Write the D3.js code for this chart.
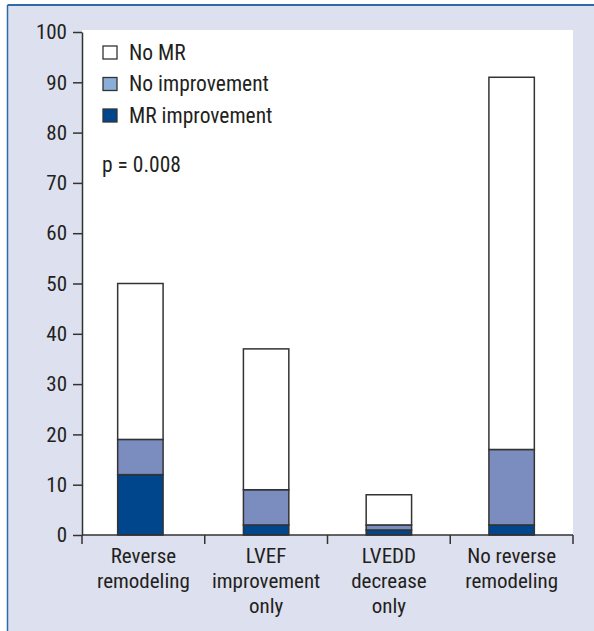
<!DOCTYPE html>
<html>
<head>
<meta charset="utf-8">
<script src="https://cdn.jsdelivr.net/npm/d3@7"></script>
<style>
  html, body { margin: 0; padding: 0; background: #fff; }
  svg text { font-family: "Liberation Sans Narrow", "Roboto Condensed", "Liberation Sans", sans-serif; fill: #231f20; }
</style>
</head>
<body>
<div id="chart"></div>
<script>
// data
const categories = [['Reverse', 'remodeling'], ['LVEF', 'improvement', 'only'], ['LVEDD', 'decrease', 'only'], ['No reverse', 'remodeling']];
const mrImprovement = [12, 2, 1, 2];
const noImprovement = [7, 7, 1, 15];
const noMR = [31, 28, 6, 74];
const seriesNames = ['MR improvement', 'No improvement', 'No MR'];
const legendOrder = ['No MR', 'No improvement', 'MR improvement'];
const yTicks = [0, 10, 20, 30, 40, 50, 60, 70, 80, 90, 100];
const pText = 'p = 0.008';

const W = 594, H = 631;
const margin = { top: 32, right: 21, bottom: 96, left: 82 };
const cW = W - margin.left - margin.right;
const cH = H - margin.top - margin.bottom;

const colors = { 'MR improvement': '#00468c', 'No improvement': '#7b8dbf', 'No MR': '#ffffff' };
const legendColors = { 'MR improvement': '#00468c', 'No improvement': '#8aaed8', 'No MR': '#ffffff' };

const svg = d3.select('#chart').append('svg').attr('width', W).attr('height', H);

// frame
svg.append('rect').attr('x', 8).attr('y', 5).attr('width', W - 8).attr('height', H - 5).attr('fill', '#dde0ee');
svg.append('line').attr('x1', 7.5).attr('x2', W).attr('y1', 5).attr('y2', 5).attr('stroke', '#2e6aa8').attr('stroke-width', 2);
svg.append('line').attr('x1', 7.5).attr('x2', 7.5).attr('y1', 5).attr('y2', H).attr('stroke', '#2e6aa8').attr('stroke-width', 1.5);

const g = svg.append('g').attr('transform', `translate(${margin.left},${margin.top})`);

// plot area background
g.append('rect').attr('x', 0).attr('y', -2).attr('width', cW).attr('height', cH + 2).attr('fill', '#fff');

const x = d3.scaleBand().domain(d3.range(categories.length)).range([0, cW]).paddingInner(0.63).paddingOuter(0.315);
const y = d3.scaleLinear().domain([0, 100]).range([cH, 0]);

const table = categories.map((c, i) => ({
  i,
  'MR improvement': mrImprovement[i],
  'No improvement': noImprovement[i],
  'No MR': noMR[i]
}));
const stacked = d3.stack().keys(seriesNames)(table);

g.selectAll('g.layer').data(stacked).join('g').attr('class', 'layer')
  .attr('fill', d => colors[d.key])
  .selectAll('rect').data(d => d).join('rect')
  .attr('x', d => x(d.data.i) - (d.data.i === 0 ? 3 : 0))
  .attr('width', x.bandwidth())
  .attr('y', d => y(d[1]))
  .attr('height', d => y(d[0]) - y(d[1]))
  .attr('stroke', '#333')
  .attr('stroke-width', 1.5);

// y axis
const yAxis = g.append('g').call(d3.axisLeft(y).tickValues(yTicks).tickSize(9).tickPadding(6).tickSizeOuter(0));
yAxis.select('.domain').attr('stroke', '#333').attr('stroke-width', 1.5);
yAxis.selectAll('.tick line').attr('stroke', '#333').attr('stroke-width', 1.5);
yAxis.selectAll('.tick text').attr('font-size', 21).attr('fill', '#231f20');

// x axis with boundary ticks
const xb = g.append('g').attr('transform', `translate(0,${cH})`);
xb.append('line').attr('x1', 0).attr('x2', cW).attr('stroke', '#333').attr('stroke-width', 1.5);
xb.selectAll('line.bt').data(d3.range(categories.length + 1)).join('line').attr('class', 'bt')
  .attr('x1', d => d * cW / categories.length).attr('x2', d => d * cW / categories.length)
  .attr('y1', 0).attr('y2', 9).attr('stroke', '#333').attr('stroke-width', 1.5);

const labels = xb.selectAll('text.cat').data(categories).join('text').attr('class', 'cat')
  .attr('text-anchor', 'middle')
  .attr('font-size', 21)
  .attr('x', (d, i) => (i + 0.5) * cW / categories.length);
labels.selectAll('tspan').data(d => d).join('tspan')
  .attr('x', function () { return d3.select(this.parentNode).attr('x'); })
  .attr('y', (d, j) => 28 + j * 25)
  .text(d => d);

// legend
const lg = g.append('g').attr('transform', 'translate(21,0)');
legendOrder.forEach((k, i) => {
  const row = lg.append('g').attr('transform', `translate(0,${14 + i * 31.5})`);
  row.append('rect').attr('width', 14).attr('height', 13).attr('fill', legendColors[k]).attr('stroke', '#333').attr('stroke-width', 1.3);
  row.append('text').attr('x', 26).attr('y', 13.5).attr('font-size', 21.5).text(k);
});
g.append('text').attr('x', 20).attr('y', 140).attr('font-size', 21.5).text(pText);
</script>
</body>
</html>
